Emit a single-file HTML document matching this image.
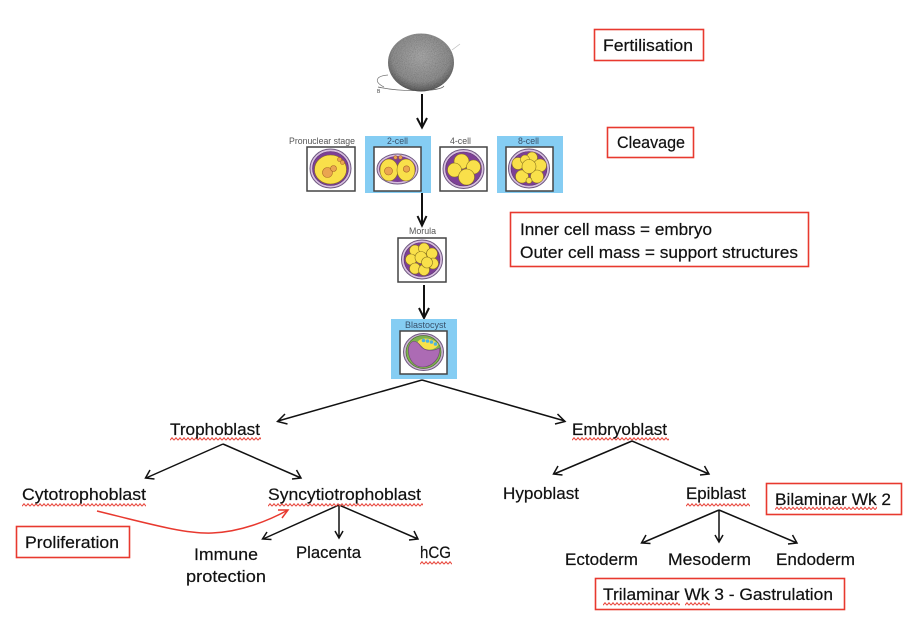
<!DOCTYPE html>
<html>
<head>
<meta charset="utf-8">
<style>
html,body{margin:0;padding:0;background:#fff;width:916px;height:628px;overflow:hidden}
svg{display:block}
text{font-family:"Liberation Sans",sans-serif;fill:#111;font-size:17px;stroke:#111;stroke-width:.2}
.s{font-size:9px;fill:#555;stroke:none}
.b{fill:#fff;stroke:#e8392f;stroke-width:1.6}
.a{fill:none;stroke:#111;stroke-width:1.5}
.t{fill:none;stroke:#111;stroke-width:2}
.f{fill:#fff;stroke:#444;stroke-width:1.5}
.y{fill:#f9e04a;stroke:#8a7420;stroke-width:.6}
.o{fill:#eaa550;stroke:#a8662a;stroke-width:.6}
</style>
</head>
<body>
<svg width="916" height="628" viewBox="0 0 916 628" xmlns="http://www.w3.org/2000/svg">
<defs>
<pattern id="q" width="4" height="4" patternUnits="userSpaceOnUse">
<path d="M0 3.200 L2 .8 L4 3.200" fill="none" stroke="#e8463c" stroke-width="1.100"/>
</pattern>
<radialGradient id="sp" cx="50%" cy="40%" r="62%">
<stop offset="0" stop-color="#b4b4b4"/><stop offset=".7" stop-color="#989898"/><stop offset=".92" stop-color="#6c6c6c"/><stop offset="1" stop-color="#404040"/>
</radialGradient>
<filter id="n" x="0" y="0" width="100%" height="100%">
<feTurbulence type="fractalNoise" baseFrequency="1.1" numOctaves="2" result="t"/>
<feColorMatrix in="t" type="saturate" values="0" result="g"/>
<feComposite in="g" in2="SourceGraphic" operator="in" result="c"/>
<feBlend in="SourceGraphic" in2="c" mode="multiply"/>
</filter>
<g id="shell">
<ellipse cx="0" cy="0" rx="20.500" ry="19.500" fill="#d9bfe0" stroke="#6f5a80" stroke-width="1"/>
<ellipse cx="0" cy="0" rx="18" ry="17" fill="#7d3f96" stroke="#5a3570" stroke-width=".6"/>
</g>
</defs>

<!-- sphere -->
<path d="M384 87 C374 82 375 76 388 75" fill="none" stroke="#777" stroke-width=".7"/>
<path d="M378 87 C400 92 440 92 444 86" fill="none" stroke="#666" stroke-width=".7"/>
<path d="M452 50 L460 44" fill="none" stroke="#bbb" stroke-width=".7"/>
<ellipse cx="421" cy="62.500" rx="33" ry="29" fill="url(#sp)" filter="url(#n)"/>
<text x="377" y="93" style="font-size:5px;stroke:none;fill:#444">B</text>

<!-- vertical arrows -->
<path class="t" d="M422 94V127M417 118l5 9.500 5-9.500"/>
<path class="t" d="M422 193V225M417.500 216l4.500 9.500 4.500-9.500"/>
<path class="t" d="M424 285V318M419 308l5 10 5-10"/>

<!-- blue panels -->
<rect x="365" y="136" width="66" height="57" fill="#85cdf3"/>
<rect x="497" y="136" width="66" height="57" fill="#85cdf3"/>
<rect x="391" y="319" width="66" height="60" fill="#85cdf3"/>

<!-- stage labels -->
<text class="s" x="289" y="144" textLength="66" lengthAdjust="spacingAndGlyphs">Pronuclear stage</text>
<text class="s" x="387" y="144" textLength="21" lengthAdjust="spacingAndGlyphs" style="fill:#38506a">2-cell</text>
<text class="s" x="450" y="144" textLength="21" lengthAdjust="spacingAndGlyphs">4-cell</text>
<text class="s" x="518" y="144" textLength="21" lengthAdjust="spacingAndGlyphs" style="fill:#38506a">8-cell</text>
<text class="s" x="409" y="234" textLength="27" lengthAdjust="spacingAndGlyphs">Morula</text>
<text class="s" x="405" y="328" textLength="41" lengthAdjust="spacingAndGlyphs" style="fill:#38506a">Blastocyst</text>

<!-- pronuclear -->
<rect class="f" x="307" y="147" width="48" height="44"/>
<g transform="translate(330.500 168.500)">
<use href="#shell"/>
<ellipse cx="0" cy="1" rx="16" ry="14.500" class="y"/>
<circle cx="-3" cy="4" r="5" class="o"/><circle cx="3" cy="0" r="3" class="o"/>
<circle cx="9" cy="-9" r="2" class="o"/><circle cx="12" cy="-6" r="2" class="o"/>
</g>
<!-- 2 cell -->
<rect class="f" x="374" y="147" width="47" height="44"/>
<g transform="translate(397.500 169)">
<ellipse rx="20.500" ry="15" fill="#d9bfe0" stroke="#6f5a80"/>
<ellipse rx="18.500" ry="13" fill="#7d3f96"/>
<ellipse cx="-8.500" cy="1" rx="9" ry="11" class="y"/><ellipse cx="8.500" cy="1" rx="9" ry="11" class="y"/>
<circle cx="-9" cy="2" r="4" class="o"/><circle cx="9" cy="0" r="3.200" class="o"/>
<circle cx="-2" cy="-11.500" r="1.800" class="o"/><circle cx="3" cy="-11.500" r="1.800" class="o"/>
</g>
<!-- 4 cell -->
<rect class="f" x="440" y="147" width="47" height="44"/>
<g transform="translate(463.500 169)">
<use href="#shell"/>
<circle cx="-2" cy="-7.500" r="7.500" class="y"/><circle cx="10" cy="-2" r="7" class="y"/><circle cx="-9" cy="1" r="7" class="y"/><circle cx="3" cy="8" r="8" class="y"/>
</g>
<!-- 8 cell -->
<rect class="f" x="506" y="147" width="47" height="44"/>
<g transform="translate(529 168.500)">
<use href="#shell"/>
<circle cx="3" cy="-11" r="5.500" class="y"/><circle cx="-11" cy="-5" r="6" class="y"/><circle cx="11" cy="-3" r="6.500" class="y"/><circle cx="-7" cy="8" r="6.500" class="y"/><circle cx="8" cy="8" r="6.500" class="y"/><circle cx="-4" cy="-9" r="4.500" class="y"/><circle cx="0" cy="12" r="3" class="y"/><circle cx="0" cy="-2" r="7" class="y"/>
</g>
<!-- morula -->
<rect class="f" x="398" y="238" width="48" height="44"/>
<g transform="translate(422 259.500)">
<use href="#shell"/>
<circle cx="-7" cy="-9" r="5.500" class="y"/><circle cx="2" cy="-11" r="5.500" class="y"/><circle cx="10" cy="-6" r="5.500" class="y"/><circle cx="-11" cy="0" r="5.500" class="y"/><circle cx="11" cy="4" r="5.500" class="y"/><circle cx="-7" cy="9" r="5.500" class="y"/><circle cx="2" cy="10.500" r="5.500" class="y"/><circle cx="-1" cy="-2" r="6" class="y"/><circle cx="5" cy="3" r="5.500" class="y"/>
</g>
<!-- blastocyst -->
<rect class="f" x="400" y="331" width="47" height="43"/>
<g transform="translate(423.500 352)">
<ellipse rx="20" ry="18.500" fill="#cdb6d3" stroke="#6f5a80"/>
<ellipse rx="17.500" ry="16.500" fill="#7fb24e" stroke="#4d6d34" stroke-width=".7"/>
<path d="M-15 -4C-13 -13 -7 -12 -3 -6C2 0 10 -1 16 -4C17 6 9 15 -1 15C-10 15 -16 6 -15 -4Z" fill="#ac6bb4" stroke="#6f3f78" stroke-width=".6"/>
<path d="M-6 -10C-3 -15 8 -15 15 -8C13 -2 4 -1 0 -4Z" fill="#f9e04a"/>
<circle cx="0" cy="-11.500" r="1.800" fill="#4db0e0"/><circle cx="4" cy="-11" r="1.800" fill="#4db0e0"/><circle cx="8" cy="-10" r="1.800" fill="#4db0e0"/><circle cx="12" cy="-8" r="1.800" fill="#4db0e0"/>
</g>

<!-- tree arrows -->
<path class="a" d="M422 380L278 421M285 414l-7.500 7.500 10 2.500"/>
<path class="a" d="M422 380L565 421M555 424l10-2.500-7.500-7.500"/>
<path class="a" d="M223 444L146 478M150 470l-4.500 8 9 1"/>
<path class="a" d="M223 444L301 478M292 479l9-1-4.500-8"/>
<path class="a" d="M339 505L263 539M267 532l-4.500 7 9 .500"/>
<path class="a" d="M339 505V538M335 531l4 7 4-7"/>
<path class="a" d="M339 505L418 539M409 540l9-1-4-8"/>
<path class="a" d="M632 441L554 474M558 466l-4.500 8 9 1"/>
<path class="a" d="M632 441L709 474M700 475l9-1-4.500-8"/>
<path class="a" d="M719 510L642 543M646 535l-4.500 8 9 .500"/>
<path class="a" d="M719 510V542M715 535l4 7 4-7"/>
<path class="a" d="M719 510L797 543M788 544l9-1-4.500-8"/>

<!-- squiggles -->
<rect transform="translate(170 437)" width="91" height="4" fill="url(#q)"/>
<rect transform="translate(22 503)" width="124" height="4" fill="url(#q)"/>
<rect transform="translate(268 503)" width="155" height="4" fill="url(#q)"/>
<rect transform="translate(420 561)" width="32" height="4" fill="url(#q)"/>
<rect transform="translate(572 437)" width="97" height="4" fill="url(#q)"/>
<rect transform="translate(686 503)" width="64" height="4" fill="url(#q)"/>

<!-- red curve -->
<path d="M97 511C150 524 185 534 212 533C240 532 268 521 288 510" fill="none" stroke="#e8392f" stroke-width="1.500"/>
<path d="M278 510L288 510L282 518" fill="none" stroke="#e8392f" stroke-width="1.500"/>

<!-- tree labels -->
<text x="170" y="435" textLength="90" lengthAdjust="spacingAndGlyphs">Trophoblast</text>
<text x="22" y="500" textLength="124" lengthAdjust="spacingAndGlyphs">Cytotrophoblast</text>
<text x="268" y="500" textLength="153" lengthAdjust="spacingAndGlyphs">Syncytiotrophoblast</text>
<text x="194" y="560" textLength="64" lengthAdjust="spacingAndGlyphs">Immune</text>
<text x="186" y="582" textLength="80" lengthAdjust="spacingAndGlyphs">protection</text>
<text x="296" y="558" textLength="65" lengthAdjust="spacingAndGlyphs">Placenta</text>
<text x="420" y="558" textLength="31" lengthAdjust="spacingAndGlyphs">hCG</text>
<text x="572" y="435" textLength="95" lengthAdjust="spacingAndGlyphs">Embryoblast</text>
<text x="503" y="499" textLength="76" lengthAdjust="spacingAndGlyphs">Hypoblast</text>
<text x="686" y="499" textLength="60" lengthAdjust="spacingAndGlyphs">Epiblast</text>
<text x="565" y="565" textLength="73" lengthAdjust="spacingAndGlyphs">Ectoderm</text>
<text x="668" y="565" textLength="83" lengthAdjust="spacingAndGlyphs">Mesoderm</text>
<text x="776" y="565" textLength="79" lengthAdjust="spacingAndGlyphs">Endoderm</text>

<!-- red boxes -->
<rect class="b" x="594.500" y="29.500" width="109" height="31"/>
<text x="603" y="51" textLength="90" lengthAdjust="spacingAndGlyphs">Fertilisation</text>
<rect class="b" x="607.500" y="127.500" width="86" height="30"/>
<text x="617" y="148" textLength="68" lengthAdjust="spacingAndGlyphs">Cleavage</text>
<rect class="b" x="510.500" y="212.500" width="298" height="54"/>
<text x="520" y="235" textLength="192" lengthAdjust="spacingAndGlyphs">Inner cell mass = embryo</text>
<text x="520" y="258" textLength="278" lengthAdjust="spacingAndGlyphs">Outer cell mass = support structures</text>
<rect class="b" x="16.500" y="526.500" width="113" height="31"/>
<text x="25" y="548" textLength="94" lengthAdjust="spacingAndGlyphs">Proliferation</text>
<rect class="b" x="766.500" y="483.500" width="135" height="31"/>
<text x="775" y="505" textLength="116" lengthAdjust="spacingAndGlyphs">Bilaminar Wk 2</text>
<rect transform="translate(775 506.500)" width="102" height="4" fill="url(#q)"/>
<rect class="b" x="595.500" y="578.500" width="249" height="31"/>
<text x="603" y="600" textLength="230" lengthAdjust="spacingAndGlyphs">Trilaminar Wk 3 - Gastrulation</text>
<rect transform="translate(603 602)" width="77" height="4" fill="url(#q)"/>
<rect transform="translate(685 602)" width="25" height="4" fill="url(#q)"/>
</svg>
</body>
</html>
